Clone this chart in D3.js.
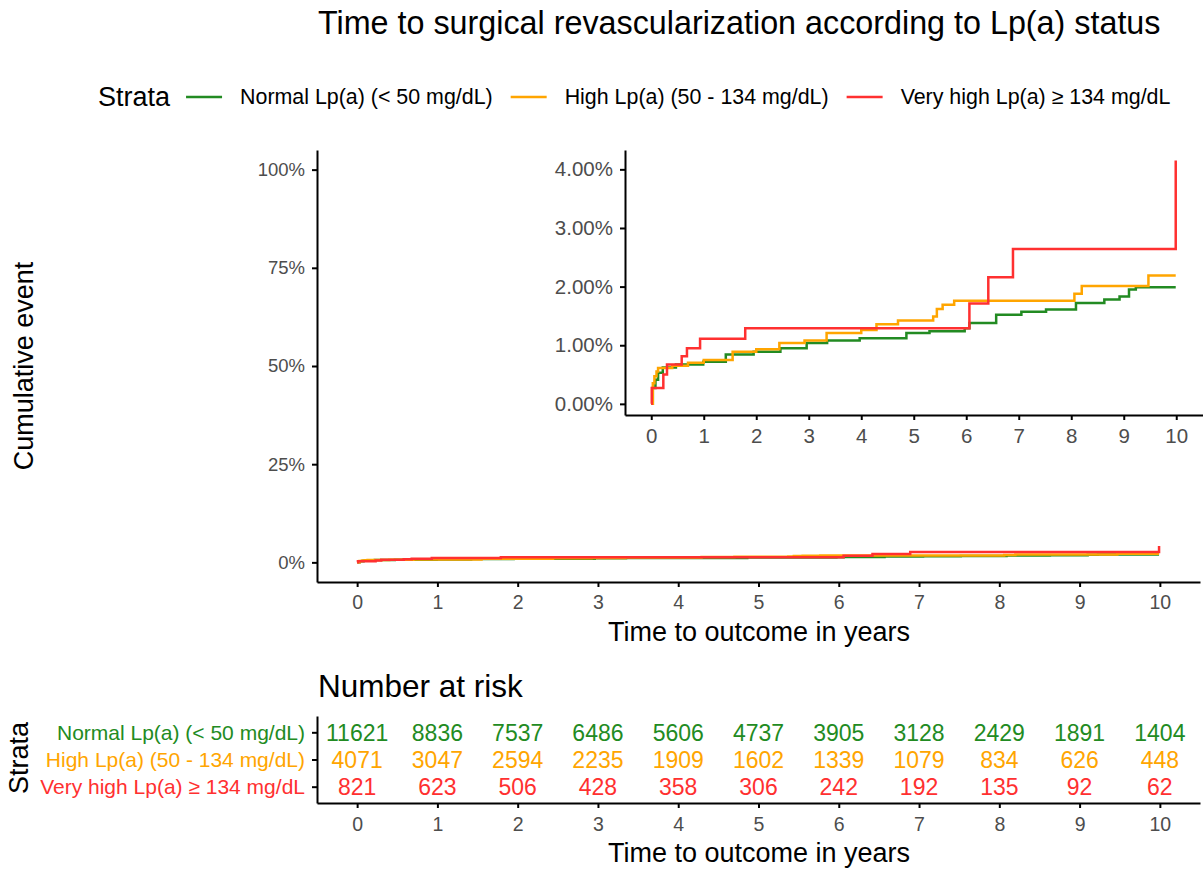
<!DOCTYPE html>
<html lang="en">
<head>
<meta charset="UTF-8">
<title>Time to surgical revascularization</title>
<script src="https://cdn.jsdelivr.net/npm/d3@7"></script>
<style>
    body { margin: 0; padding: 0; background: #fff; }
    text { font-family: "Liberation Sans", Arial, Helvetica, sans-serif; }
    .axis path, .axis line { stroke: #000; }
    .axis text { fill: #4d4d4d; font-size: 18.5px; }
    .axis.big text { font-size: 19.5px; }
    .axis.inset text { font-size: 20.5px; }
</style>
</head>
<body>
<svg id="chart" width="1203" height="869"></svg>
<script>
// strata
var strata = ['Normal Lp(a) (< 50 mg/dL)', 'High Lp(a) (50 - 134 mg/dL)', 'Very high Lp(a) \u2265 134 mg/dL']
var colors = ['#228B22', '#FFA500', '#FF3030']

// cumulative event curves (time in years, cumulative %)
var normalTime = [0, 0.03, 0.08, 0.13, 0.22, 0.47, 0.99, 1.42, 1.95, 2.46, 2.96, 3.35, 3.97, 4.86, 5.3, 5.97, 6.06, 6.57, 7.05, 7.52, 8.09, 8.63, 8.92, 9.1, 9.23, 9.99]
var normalPct  = [0, 0.27, 0.41, 0.53, 0.62, 0.67, 0.72, 0.84, 0.89, 0.95, 1.04, 1.08, 1.12, 1.21, 1.24, 1.29, 1.38, 1.52, 1.57, 1.61, 1.72, 1.78, 1.83, 1.95, 1.99, 1.99]

var highTime = [0, 0.03, 0.06, 0.1, 0.13, 0.4, 0.7, 1.0, 1.55, 2.0, 2.44, 2.92, 3.34, 4.0, 4.29, 4.7, 5.37, 5.44, 5.55, 5.77, 8.06, 8.2, 9.47, 9.99]
var highPct  = [0, 0.35, 0.47, 0.55, 0.61, 0.65, 0.70, 0.75, 0.89, 0.93, 1.04, 1.08, 1.21, 1.26, 1.36, 1.42, 1.49, 1.62, 1.69, 1.76, 1.88, 2.01, 2.19, 2.19]

var veryHighTime = [0, 0.01, 0.23, 0.30, 0.58, 0.68, 0.93, 1.79, 6.06, 6.42, 6.89, 9.99]
var veryHighPct  = [0, 0.27, 0.50, 0.67, 0.81, 0.95, 1.11, 1.29, 1.71, 2.16, 2.64, 4.15]

// number at risk
var riskTimes = [0, 1, 2, 3, 4, 5, 6, 7, 8, 9, 10]
var riskNormal = [11621, 8836, 7537, 6486, 5606, 4737, 3905, 3128, 2429, 1891, 1404]
var riskHigh = [4071, 3047, 2594, 2235, 1909, 1602, 1339, 1079, 834, 626, 448]
var riskVeryHigh = [821, 623, 506, 428, 358, 306, 242, 192, 135, 92, 62]

var mainYTicks = [0, 0.25, 0.5, 0.75, 1]
var insetYTicks = [0, 0.01, 0.02, 0.03, 0.04]
var xTicks = [0, 1, 2, 3, 4, 5, 6, 7, 8, 9, 10]

var curves = [
    {times: normalTime, pct: normalPct},
    {times: highTime, pct: highPct},
    {times: veryHighTime, pct: veryHighPct}
].map(function (c, i) {
    return {color: colors[i], pts: c.times.map(function (t, j) { return [t, c.pct[j] / 100] })}
})
var risks = [riskNormal, riskHigh, riskVeryHigh]

var svg = d3.select('#chart')

// title
svg.append('text')
    .attr('x', 318).attr('y', 34)
    .style('font-size', '32.3px').attr('fill', '#000')
    .text('Time to surgical revascularization according to Lp(a) status')

// legend
var lg = svg.append('g')
var lx = 98, ly = 97
var t0 = lg.append('text').attr('x', lx).attr('y', ly).attr('dy', '0.35em')
    .style('font-size', '27px').text('Strata')
lx += t0.node().getComputedTextLength() + 16
strata.forEach(function (s, i) {
    lg.append('line').attr('x1', lx).attr('x2', lx + 36).attr('y1', ly).attr('y2', ly)
        .attr('stroke', colors[i]).attr('stroke-width', 2.5)
    lx += 54
    var tt = lg.append('text').attr('x', lx).attr('y', ly).attr('dy', '0.35em')
        .style('font-size', '21.4px').text(s)
    lx += tt.node().getComputedTextLength() + 18
})

function styleAxis(g) {
    g.select('.domain').attr('stroke-width', 2)
    g.selectAll('.tick line').attr('stroke-width', 2)
}

// main plot
var x = d3.scaleLinear().domain([-0.5, 10.5]).range([317, 1200])
var y = d3.scaleLinear().domain([-0.05, 1.05]).range([582, 150])

var line = d3.line().curve(d3.curveStepAfter)

svg.append('g').attr('class', 'axis').attr('transform', 'translate(317,0)')
    .call(d3.axisLeft(y).tickValues(mainYTicks).tickFormat(d3.format('.0%')).tickSize(5).tickSizeOuter(0).tickPadding(7))
    .call(styleAxis)
svg.append('g').attr('class', 'axis big').attr('transform', 'translate(0,582)')
    .call(d3.axisBottom(x).tickValues(xTicks).tickSize(5).tickSizeOuter(0).tickPadding(8))
    .call(styleAxis)

curves.forEach(function (c) {
    svg.append('path')
        .attr('d', line.x(function (d) { return x(d[0]) }).y(function (d) { return y(d[1]) })(c.pts))
        .attr('fill', 'none').attr('stroke', c.color).attr('stroke-width', 2.5)
})

svg.append('text').attr('x', 759).attr('y', 641).attr('text-anchor', 'middle')
    .style('font-size', '27px').text('Time to outcome in years')
svg.append('text').attr('transform', 'translate(33,366) rotate(-90)').attr('text-anchor', 'middle')
    .style('font-size', '27px').text('Cumulative event')

// inset
var xi = d3.scaleLinear().domain([-0.5, 10.5]).range([625, 1202.5])
var yi = d3.scaleLinear().domain([-0.0019, 0.0433]).range([415, 150])

var ig = svg.append('g')
ig.append('rect').attr('x', 625).attr('y', 150).attr('width', 578).attr('height', 265).attr('fill', '#fff')
ig.append('g').attr('class', 'axis inset').attr('transform', 'translate(625,0)')
    .call(d3.axisLeft(yi).tickValues(insetYTicks).tickFormat(d3.format('.2%')).tickSize(5).tickSizeOuter(0).tickPadding(7))
    .call(styleAxis)
ig.append('g').attr('class', 'axis inset').attr('transform', 'translate(0,415)')
    .call(d3.axisBottom(xi).tickValues(xTicks).tickSize(5).tickSizeOuter(0).tickPadding(8))
    .call(styleAxis)

curves.forEach(function (c) {
    ig.append('path')
        .attr('d', line.x(function (d) { return xi(d[0]) }).y(function (d) { return yi(d[1]) })(c.pts))
        .attr('fill', 'none').attr('stroke', c.color).attr('stroke-width', 2.5)
})

// number at risk table
svg.append('text').attr('x', 318).attr('y', 697).style('font-size', '31.5px').text('Number at risk')

var xr = d3.scaleLinear().domain([-0.5, 10.5]).range([317, 1200])
var yr = d3.scalePoint().domain(strata).range([716, 803]).padding(0.6)

var ay = svg.append('g').attr('class', 'axis').attr('transform', 'translate(317,0)')
    .call(d3.axisLeft(yr).tickSize(5).tickSizeOuter(0).tickPadding(7))
    .call(styleAxis)
ay.selectAll('.tick text')
    .style('font-size', '21px')
    .style('fill', function (d, i) { return colors[i] })
svg.append('g').attr('class', 'axis big').attr('transform', 'translate(0,803)')
    .call(d3.axisBottom(xr).tickValues(xTicks).tickSize(5).tickSizeOuter(0).tickPadding(9))
    .call(styleAxis)

risks.forEach(function (row, i) {
    svg.append('g').selectAll('text')
        .data(row)
        .enter()
        .append('text')
        .attr('x', function (d, j) { return xr(riskTimes[j]) })
        .attr('y', yr(strata[i]))
        .attr('dy', '0.36em')
        .attr('text-anchor', 'middle')
        .attr('fill', colors[i])
        .style('font-size', '23px')
        .text(function (d) { return d })
})

svg.append('text').attr('x', 759).attr('y', 862).attr('text-anchor', 'middle')
    .style('font-size', '27px').text('Time to outcome in years')
svg.append('text').attr('transform', 'translate(28,758) rotate(-90)').attr('text-anchor', 'middle')
    .style('font-size', '27px').text('Strata')
</script>
</body>
</html>
